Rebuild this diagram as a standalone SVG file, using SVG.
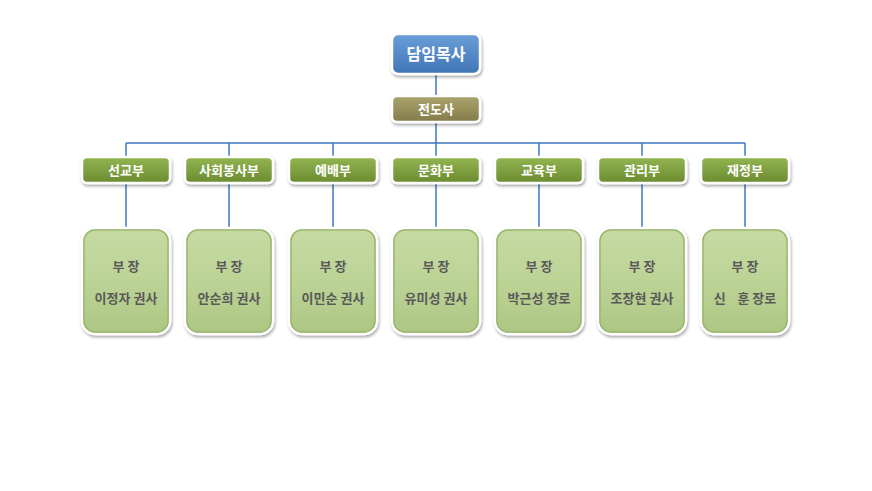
<svg xmlns="http://www.w3.org/2000/svg" width="872" height="491" viewBox="0 0 872 491">
<defs>
<linearGradient id="gBlue" x1="0" y1="0" x2="0" y2="1"><stop offset="0" stop-color="#6b9fd8"/><stop offset="1" stop-color="#3f74b5"/></linearGradient>
<linearGradient id="gOlive" x1="0" y1="0" x2="0" y2="1"><stop offset="0" stop-color="#aaa46e"/><stop offset="1" stop-color="#837b48"/></linearGradient>
<linearGradient id="gGreen" x1="0" y1="0" x2="0" y2="1"><stop offset="0" stop-color="#93b552"/><stop offset="1" stop-color="#6b8b2f"/></linearGradient>
<linearGradient id="gLight" x1="0" y1="0" x2="0" y2="1"><stop offset="0" stop-color="#c6daa2"/><stop offset="0.5" stop-color="#bcd396"/><stop offset="1" stop-color="#adc683"/></linearGradient>
<filter id="sh" x="-20%" y="-20%" width="140%" height="150%"><feDropShadow dx="1" dy="2" stdDeviation="1.5" flood-color="#000" flood-opacity="0.35"/></filter>
</defs>
<style>
.box{stroke:#fff;stroke-width:2.5;filter:url(#sh)}
.in{fill:none;stroke:#9cb872;stroke-width:1.5}
.t{font-family:"Noto Sans CJK KR","Noto Sans",sans-serif;font-weight:bold;text-anchor:middle}
.w{fill:#fff}
.g{fill:#595959;font-size:13px}
.c{stroke:#3f78c0;stroke-width:1.5;fill:none}
</style>
<rect width="872" height="491" fill="#fff"/>
<g id="connectors">
<path class="c" d="M436 74V96M436 122V143M126 143H745M126 143V157M229 143V157M333 143V157M436 143V157M539 143V157M642 143V157M745 143V157"/>
<path class="c" d="M126 183V228M229 183V228M333 183V228M436 183V228M539 183V228M642 183V228M745 183V228"/>
</g>
<g id="n-top"><rect class="box" x="392" y="34" width="88" height="40" rx="6" fill="url(#gBlue)"/><text class="t w" x="436" y="60" font-size="16">담임목사</text></g>
<g id="n-jd"><rect class="box" x="392" y="96" width="88" height="26" rx="5" fill="url(#gOlive)"/><text class="t w" x="436" y="114" font-size="13">전도사</text></g>
<g id="d1"><rect class="box" x="82" y="157" width="88" height="26" rx="5" fill="url(#gGreen)"/><text class="t w" x="126" y="175" font-size="13">선교부</text></g>
<g id="d2"><rect class="box" x="185" y="157" width="88" height="26" rx="5" fill="url(#gGreen)"/><text class="t w" x="229" y="175" font-size="13">사회봉사부</text></g>
<g id="d3"><rect class="box" x="289" y="157" width="88" height="26" rx="5" fill="url(#gGreen)"/><text class="t w" x="333" y="175" font-size="13">예배부</text></g>
<g id="d4"><rect class="box" x="392" y="157" width="88" height="26" rx="5" fill="url(#gGreen)"/><text class="t w" x="436" y="175" font-size="13">문화부</text></g>
<g id="d5"><rect class="box" x="495" y="157" width="88" height="26" rx="5" fill="url(#gGreen)"/><text class="t w" x="539" y="175" font-size="13">교육부</text></g>
<g id="d6"><rect class="box" x="598" y="157" width="88" height="26" rx="5" fill="url(#gGreen)"/><text class="t w" x="642" y="175" font-size="13">관리부</text></g>
<g id="d7"><rect class="box" x="701" y="157" width="88" height="26" rx="5" fill="url(#gGreen)"/><text class="t w" x="745" y="175" font-size="13">재정부</text></g>
<g id="b1"><rect class="box" x="82" y="228" width="88" height="106" rx="13" fill="url(#gLight)"/><rect class="in" x="84" y="230" width="84" height="102" rx="11"/><text class="t g" x="126" y="271">부 장</text><text class="t g" x="126" y="303">이정자 권사</text></g>
<g id="b2"><rect class="box" x="185" y="228" width="88" height="106" rx="13" fill="url(#gLight)"/><rect class="in" x="187" y="230" width="84" height="102" rx="11"/><text class="t g" x="229" y="271">부 장</text><text class="t g" x="229" y="303">안순희 권사</text></g>
<g id="b3"><rect class="box" x="289" y="228" width="88" height="106" rx="13" fill="url(#gLight)"/><rect class="in" x="291" y="230" width="84" height="102" rx="11"/><text class="t g" x="333" y="271">부 장</text><text class="t g" x="333" y="303">이민순 권사</text></g>
<g id="b4"><rect class="box" x="392" y="228" width="88" height="106" rx="13" fill="url(#gLight)"/><rect class="in" x="394" y="230" width="84" height="102" rx="11"/><text class="t g" x="436" y="271">부 장</text><text class="t g" x="436" y="303">유미성 권사</text></g>
<g id="b5"><rect class="box" x="495" y="228" width="88" height="106" rx="13" fill="url(#gLight)"/><rect class="in" x="497" y="230" width="84" height="102" rx="11"/><text class="t g" x="539" y="271">부 장</text><text class="t g" x="539" y="303">박근성 장로</text></g>
<g id="b6"><rect class="box" x="598" y="228" width="88" height="106" rx="13" fill="url(#gLight)"/><rect class="in" x="600" y="230" width="84" height="102" rx="11"/><text class="t g" x="642" y="271">부 장</text><text class="t g" x="642" y="303">조장현 권사</text></g>
<g id="b7"><rect class="box" x="701" y="228" width="88" height="106" rx="13" fill="url(#gLight)"/><rect class="in" x="703" y="230" width="84" height="102" rx="11"/><text class="t g" x="745" y="271">부 장</text><text class="t g" x="745" y="303" xml:space="preserve">신    훈 장로</text></g>
</svg>
